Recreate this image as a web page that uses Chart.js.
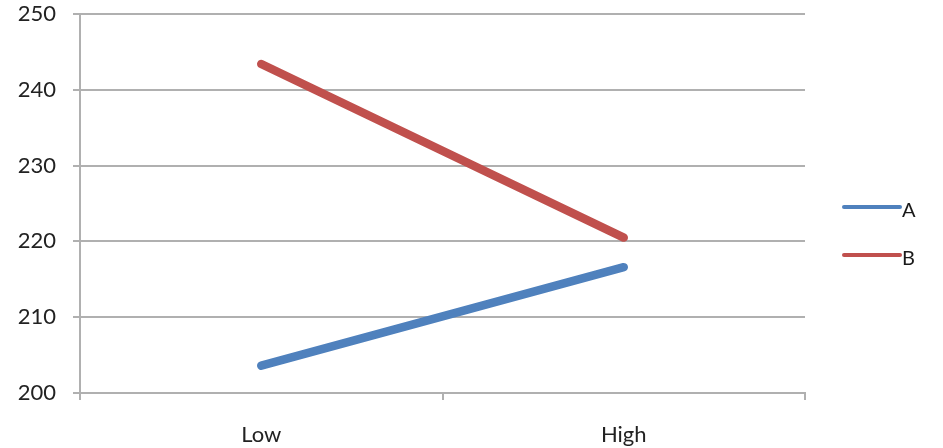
<!DOCTYPE html>
<html>
<head>
<meta charset="utf-8">
<script src="https://cdn.jsdelivr.net/npm/chart.js@4"></script>
<style>
  html, body { margin: 0; padding: 0; background: #ffffff; }
  #wrap { width: 943px; height: 448px; position: relative; }
</style>
</head>
<body>
<div id="wrap"><canvas id="chart"></canvas></div>
<script>
// Categories and series
const categories = ['Low', 'High'];
const seriesA = [203.6, 216.6];
const seriesB = [243.4, 220.5];
const seriesNames = ['A', 'B'];
const seriesColors = ['#4F81BD', '#C0504D'];

const FONT = 'Lato, "Open Sans", "Liberation Sans", sans-serif';
const GRID = '#b0b0b0';

// Legend drawn at the right: a short line then the series name
const sideLegend = {
  id: 'sideLegend',
  afterDraw(chart) {
    const ctx = chart.ctx;
    const x0 = 844, x1 = 900;
    const rows = [207, 255];
    ctx.save();
    chart.data.datasets.forEach((ds, i) => {
      const y = rows[i];
      ctx.strokeStyle = ds.borderColor;
      ctx.lineWidth = 4;
      ctx.lineCap = 'round';
      ctx.beginPath();
      ctx.moveTo(x0, y);
      ctx.lineTo(x1, y);
      ctx.stroke();
      ctx.fillStyle = '#1a1a1a';
      ctx.font = '20px ' + FONT;
      ctx.textAlign = 'left';
      ctx.textBaseline = 'middle';
      ctx.fillText(ds.label, 902, y + 4);
    });
    ctx.restore();
  }
};

new Chart(document.getElementById('chart'), {
  type: 'line',
  data: {
    labels: categories,
    datasets: [
      { label: seriesNames[0], data: seriesA, borderColor: seriesColors[0], backgroundColor: seriesColors[0] },
      { label: seriesNames[1], data: seriesB, borderColor: seriesColors[1], backgroundColor: seriesColors[1] }
    ]
  },
  options: {
    responsive: true,
    maintainAspectRatio: false,
    animation: false,
    layout: { padding: { left: 0, right: 138, top: 14, bottom: 0 } },
    elements: {
      line: { borderWidth: 8.5, borderCapStyle: 'round', borderJoinStyle: 'round', tension: 0 },
      point: { radius: 0, hoverRadius: 0 }
    },
    plugins: {
      legend: { display: false },
      tooltip: { enabled: false }
    },
    scales: {
      x: {
        offset: true,
        grid: {
          offset: true,
          drawOnChartArea: false,
          drawTicks: true,
          tickLength: 7,
          color: GRID,
          lineWidth: 2
        },
        border: { display: true, color: GRID, width: 2 },
        ticks: {
          color: '#222222',
          font: { family: FONT, size: 22 },
          padding: 22,
          maxRotation: 0
        },
        afterFit(scale) {
          scale.height = 55;
          scale.paddingLeft = 0;
          scale.paddingRight = 0;
        }
      },
      y: {
        min: 200,
        max: 250,
        grid: {
          drawOnChartArea: true,
          drawTicks: true,
          tickLength: 7,
          color: GRID,
          lineWidth: 2
        },
        border: { display: true, color: GRID, width: 2 },
        ticks: {
          stepSize: 10,
          color: '#222222',
          font: { family: FONT, size: 22 },
          padding: 17
        },
        afterFit(scale) {
          scale.width = 80;
          scale.paddingTop = 0;
          scale.paddingBottom = 0;
        }
      }
    }
  },
  plugins: [sideLegend]
});
</script>
</body>
</html>
